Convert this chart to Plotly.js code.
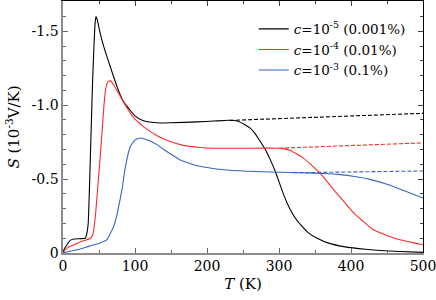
<!DOCTYPE html>
<html>
<head>
<meta charset="utf-8">
<script src="https://cdn.plot.ly/plotly-3.0.1.min.js"></script>
<style>html,body{margin:0;padding:0;background:#fff}#chart{width:436px;height:300px}</style>
</head>
<body>
<div id="chart"></div>
<script>
// c = 1e-5 (black)
const blackT = [0, 2, 5.6, 10, 15, 25, 31, 33, 35, 36.5, 38, 39.5, 41, 43, 44.5, 45.8, 47.5, 51, 56.4, 65.7, 75, 84, 93.5, 100, 110, 120, 135, 150, 186, 210, 230, 242, 252, 260, 265, 272, 281, 288, 295, 306, 315, 325, 340, 353, 370, 390, 420, 460, 500];
const blackS = [0, -0.03, -0.056, -0.085, -0.095, -0.097, -0.10, -0.13, -0.2, -0.4, -0.65, -0.9, -1.15, -1.4, -1.55, -1.60, -1.58, -1.5, -1.40, -1.26, -1.126, -1.024, -0.964, -0.928, -0.898, -0.886, -0.88, -0.881, -0.887, -0.893, -0.898, -0.893, -0.87, -0.845, -0.82, -0.77, -0.70, -0.63, -0.55, -0.40, -0.30, -0.22, -0.14, -0.10, -0.065, -0.043, -0.025, -0.012, -0.004];
const blackDashT = [232, 300, 400, 500];
const blackDashS = [-0.897, -0.91, -0.928, -0.945];

// c = 1e-4 (red)
const redT = [0, 3, 6, 10, 17, 24, 32, 38, 41, 43, 45, 47.2, 50, 51.8, 54, 56.4, 59, 62, 65.7, 70, 75, 80, 93.5, 100, 110, 120, 130, 140, 150, 167, 190, 210, 255, 300, 305, 316, 334, 357, 380, 404, 431, 464, 500];
const redS = [0, -0.02, -0.035, -0.045, -0.06, -0.075, -0.088, -0.10, -0.12, -0.17, -0.25, -0.38, -0.55, -0.66, -0.80, -0.97, -1.10, -1.155, -1.166, -1.14, -1.10, -1.055, -0.946, -0.905, -0.862, -0.826, -0.795, -0.772, -0.752, -0.728, -0.714, -0.709, -0.709, -0.709, -0.706, -0.693, -0.642, -0.54, -0.405, -0.27, -0.157, -0.095, -0.056];
const redDashT = [300, 400, 500];
const redDashS = [-0.709, -0.727, -0.745];

// c = 1e-3 (blue)
const blueT = [0, 10, 24, 35.6, 51.8, 61, 70.3, 75, 79.6, 82, 86.5, 93.5, 100, 107, 120, 130, 140, 163, 186, 223, 255, 300, 330, 362, 385, 405, 425, 450, 475, 500];
const blueS = [0, -0.012, -0.027, -0.045, -0.068, -0.09, -0.18, -0.26, -0.37, -0.43, -0.58, -0.72, -0.765, -0.778, -0.76, -0.735, -0.70, -0.63, -0.59, -0.563, -0.553, -0.546, -0.543, -0.538, -0.53, -0.518, -0.50, -0.465, -0.42, -0.372];
const blueDashT = [320, 400, 500];
const blueDashS = [-0.543, -0.548, -0.555];

const legendNames = ['<i>c</i>=10<sup>-5</sup> (0.001%)', '<i>c</i>=10<sup>-4</sup> (0.01%)', '<i>c</i>=10<sup>-3</sup> (0.1%)'];
const xTickVals = [0, 100, 200, 300, 400, 500];
const xTickText = ['0', '100', '200', '300', '400', '500'];
const yTickVals = [-1.5, -1.0, -0.5, 0];
const yTickText = ['-1.5', '-1.0', '-0.5', '0'];
const xMinor = [50, 150, 250, 350, 450];
const yMinor = [-1.6, -1.4, -1.3, -1.2, -1.1, -0.9, -0.8, -0.7, -0.6, -0.4, -0.3, -0.2, -0.1];

const BLACK = '#000000', RED = '#ff2a2a', BLUE = '#3565c4';
const FONT = 'DejaVu Serif';

function solid(x, y, color, name) {
  return {x: x, y: y, type: 'scatter', mode: 'lines', name: name,
    line: {color: color, width: 1.1, shape: 'spline', smoothing: 0.4}};
}
function dashed(x, y, color) {
  return {x: x, y: y, type: 'scatter', mode: 'lines', showlegend: false, hoverinfo: 'skip',
    line: {color: color, width: 1.1, dash: '4px,2px'}};
}

const traces = [
  dashed(blackDashT, blackDashS, BLACK),
  dashed(redDashT, redDashS, RED),
  dashed(blueDashT, blueDashS, BLUE),
  solid(blackT, blackS, BLACK, legendNames[0]),
  solid(redT, redS, RED, legendNames[1]),
  solid(blueT, blueS, BLUE, legendNames[2]),
  {x: [], y: [], xaxis: 'x2', yaxis: 'y2', type: 'scatter', mode: 'lines', showlegend: false}
];

const xr = [0, 500], yr = [0, -1.705];
const layout = {
  width: 436, height: 300,
  margin: {l: 63, r: 13, t: 1, b: 47, autoexpand: false},
  paper_bgcolor: '#fff', plot_bgcolor: '#fff',
  font: {family: FONT, size: 14, color: '#000'},
  showlegend: true,
  legend: {x: 0.53, y: 0.95, xanchor: 'left', yanchor: 'top', bgcolor: 'rgba(0,0,0,0)',
    font: {family: FONT, size: 13.5, color: '#000'}, itemwidth: 30, tracegroupgap: 0},
  xaxis: {range: xr, showline: true, linecolor: '#8c8c8c', linewidth: 1.6, mirror: false,
    ticks: 'inside', ticklen: 5, tickcolor: '#666', tickwidth: 1,
    tickmode: 'array', tickvals: xTickVals, ticktext: xTickText, ticklabeloverflow: 'allow',
    minor: {tickmode: 'array', tickvals: xMinor, ticks: 'inside', ticklen: 3, tickcolor: '#666', showgrid: false},
    showgrid: false, zeroline: false, tickfont: {family: FONT, size: 14},
    title: {text: '<i>T</i> (K)', font: {family: FONT, size: 15}, standoff: 5}},
  yaxis: {range: yr, showline: true, linecolor: '#8c8c8c', linewidth: 1.6, mirror: false,
    ticks: 'inside', ticklen: 5, tickcolor: '#666', tickwidth: 1,
    tickmode: 'array', tickvals: yTickVals, ticktext: yTickText, ticklabeloverflow: 'allow',
    minor: {tickmode: 'array', tickvals: yMinor, ticks: 'inside', ticklen: 3, tickcolor: '#666', showgrid: false},
    showgrid: false, zeroline: false, tickfont: {family: FONT, size: 14},
    title: {text: '<i>S</i> (10<sup>-3</sup>V/K)', font: {family: FONT, size: 15}, standoff: 8}},
  xaxis2: {range: xr, overlaying: 'x', anchor: 'y', side: 'top', showline: true, linecolor: '#000', linewidth: 1,
    ticks: 'inside', ticklen: 5, tickcolor: '#444', tickmode: 'array', tickvals: xTickVals, showticklabels: false,
    minor: {tickmode: 'array', tickvals: xMinor, ticks: 'inside', ticklen: 3, tickcolor: '#444', showgrid: false},
    showgrid: false, zeroline: false},
  yaxis2: {range: yr, overlaying: 'y', anchor: 'x', side: 'right', showline: true, linecolor: '#000', linewidth: 1,
    ticks: 'inside', ticklen: 5, tickcolor: '#444', tickmode: 'array', tickvals: yTickVals, showticklabels: false,
    minor: {tickmode: 'array', tickvals: yMinor, ticks: 'inside', ticklen: 3, tickcolor: '#444', showgrid: false},
    showgrid: false, zeroline: false}
};

Plotly.newPlot('chart', traces, layout, {staticPlot: true, displayModeBar: false});
</script>
</body>
</html>
